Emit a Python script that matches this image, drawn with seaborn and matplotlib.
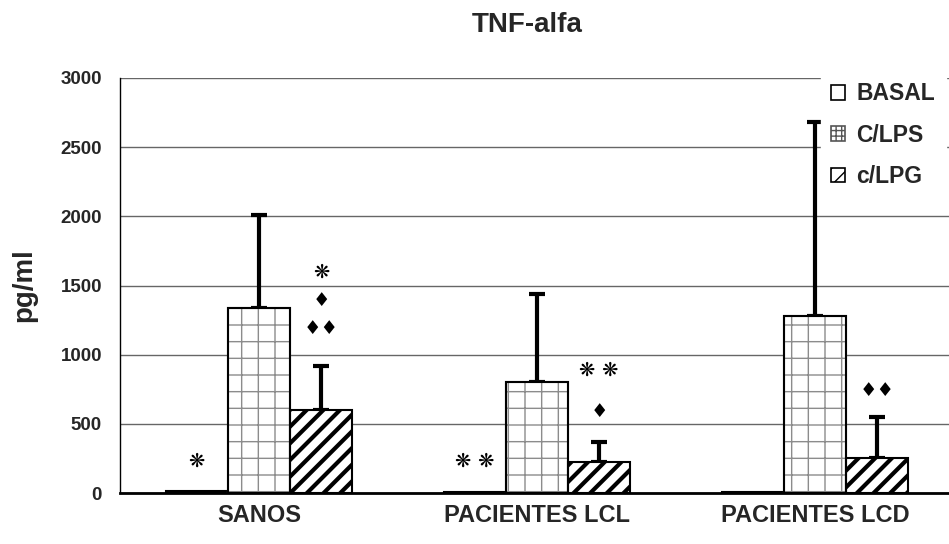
import matplotlib
matplotlib.use("Agg")
import matplotlib.pyplot as plt
import matplotlib.patches as mpatches
import seaborn as sns
import pandas as pd
import numpy as np

# ---- data ----
groups = ["SANOS", "PACIENTES LCL", "PACIENTES LCD"]
conditions = ["BASAL", "C/LPS", "c/LPG"]
basal = [12, 10, 10]
c_lps = [1340, 805, 1282]
c_lpg = [600, 226, 255]
err_basal = [0, 0, 0]
err_lps = [668, 636, 1403]
err_lpg = [320, 143, 292]
yticks = [0, 500, 1000, 1500, 2000, 2500, 3000]
# significance marks: (group index, condition index, y value, text)
marks = [
    (0, 0, 233, "❋"),
    (0, 2, 1593, "❋"),
    (0, 2, 1390, "♦"),
    (0, 2, 1186, "♦♦"),
    (1, 0, 226, "❋ ❋"),
    (1, 2, 884, "❋ ❋"),
    (1, 2, 588, "♦"),
    (2, 2, 740, "♦♦"),
]

values = [basal, c_lps, c_lpg]
errors = [err_basal, err_lps, err_lpg]
df = pd.DataFrame({
    "grupo": [g for c in conditions for g in groups],
    "condicion": [c for c in conditions for g in groups],
    "valor": [v for vals in values for v in vals],
})

sns.set_style("white")
plt.rcParams["font.family"] = ["Liberation Sans", "DejaVu Sans"]
plt.rcParams["font.weight"] = "bold"

fig = plt.figure(figsize=(9.49, 5.44), dpi=100)
ax = fig.add_axes([120/949, 1-493/544, 834/949, 415/544])

sns.barplot(data=df, x="grupo", y="valor", hue="condicion", order=groups,
            hue_order=conditions, palette=["white"]*3, width=0.67,
            edgecolor="black", linewidth=1.5, errorbar=None, legend=False, ax=ax,
            zorder=3)
bar_conts = list(ax.containers)

hatches = [None, "+", "//"]
hcolors = ["black", "#8c8c8c", "black"]
hlw = [1.0, 1.0, 3.0]
for k, cont in enumerate(bar_conts):
    for p in cont:
        p.set_facecolor("white")
        if hatches[k]:
            p.set_hatch(hatches[k])
        if hasattr(p, "set_hatch_linewidth"):
            p.set_hatch_linewidth(hlw[k])
        p.set_edgecolor(hcolors[k])
        if k == 1:
            # black outline on top of the grey-hatched bar
            ax.add_patch(mpatches.Rectangle((p.get_x(), p.get_y()), p.get_width(),
                                            p.get_height(), fill=False,
                                            edgecolor="black", linewidth=1.5,
                                            zorder=3.5))

# error bars (upper only)
for k, cont in enumerate(bar_conts):
    if k == 0:
        continue
    xs = [p.get_x() + p.get_width()/2 for p in cont]
    ys = values[k]
    ax.errorbar(xs, ys, yerr=[np.zeros(len(ys)), errors[k]], fmt="none",
                ecolor="black", elinewidth=3, capsize=6, capthick=3, zorder=2)

# significance marks
for gi, ci, yv, txt in marks:
    p = bar_conts[ci][gi]
    xc = p.get_x() + p.get_width()/2
    ax.text(xc, yv, txt, ha="center", va="center", fontsize=14,
            family=["DejaVu Sans"], color="black", zorder=5)

ax.set_ylim(0, 3000)
ax.set_xlim(-0.5, 2.5)
ax.set_yticks(yticks)
ax.set_yticklabels([str(t) for t in yticks], fontsize=13.5, fontweight="bold")
ax.set_xticks(range(len(groups)))
ax.set_xticklabels(groups, fontsize=17, fontweight="bold")
ax.set_xticks([-0.5, 0.5, 1.5], minor=True)
ax.tick_params(axis="x", which="major", length=0, pad=8)
ax.tick_params(axis="x", which="minor", length=6, width=1, color="black", direction="out")
ax.tick_params(axis="y", length=5, width=1, color="black", direction="out", pad=8)
ax.yaxis.grid(True, color="#666666", linewidth=1)
ax.set_axisbelow(True)
ax.set_xlabel("")
ax.set_ylabel("")
for s in ["top", "right"]:
    ax.spines[s].set_visible(False)
ax.spines["left"].set_color("black")
ax.spines["left"].set_linewidth(1)
ax.spines["bottom"].set_color("black")
ax.spines["bottom"].set_linewidth(2)

fig.text(527/949, 1-25/544, "TNF-alfa", ha="center", va="center",
         fontsize=20, fontweight="bold")
fig.text(24/949, 1-285/544, "pg/ml", ha="center", va="center", rotation=90,
         fontsize=20, fontweight="bold")

legend_hatches = [None, "+++", "//"]
legend_hcolors = ["black", "#555555", "black"]
legend_hlw = [1.0, 1.2, 2.0]
handles = []
for k in range(3):
    h = mpatches.Patch(facecolor="white", edgecolor=legend_hcolors[k], linewidth=1.2,
                       hatch=legend_hatches[k])
    if hasattr(h, "set_hatch_linewidth"):
        h.set_hatch_linewidth(legend_hlw[k])
    handles.append(h)
leg = fig.legend(handles, conditions, loc="upper left",
                 bbox_to_anchor=(821/949, 1-72/544), frameon=True,
                 prop={"weight": "bold", "size": 16.5}, handlelength=0.6,
                 handleheight=0.6, handletextpad=0.5, labelspacing=0.8,
                 borderpad=0.45, fancybox=False, borderaxespad=0)
leg.get_frame().set_edgecolor("white")
leg.get_frame().set_facecolor("white")
leg.get_frame().set_alpha(1)

fig.savefig("out.png", dpi=100)
